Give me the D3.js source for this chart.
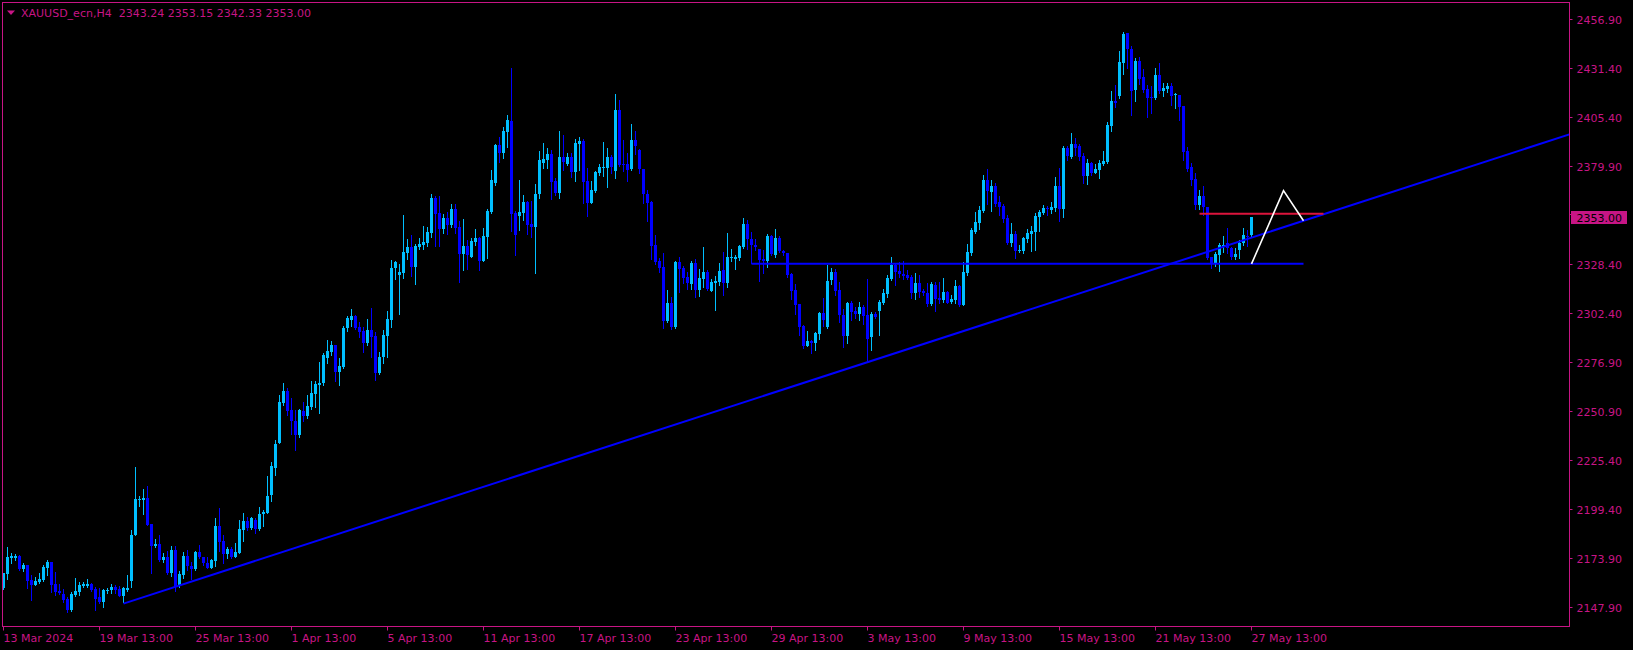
<!DOCTYPE html>
<html><head><meta charset="utf-8">
<script src="https://cdn.jsdelivr.net/npm/d3@7"></script>
<style>html,body{margin:0;padding:0;background:#000;overflow:hidden}</style>
</head><body><svg id="c" width="1633" height="650"></svg>
<script>
// ---- data (XAUUSD_ecn H4, bar index 0 = 13 Mar 2024) ----
const opens=[2158.0,2165.7,2173.6,2173.6,2175.0,2168.1,2170.0,2162.4,2159.9,2161.3,2162.4,2168.8,2171.8,2160.3,2156.6,2155.0,2152.2,2146.6,2154.6,2156.0,2159.2,2159.2,2160.3,2157.5,2153.4,2150.8,2156.6,2157.1,2158.5,2157.5,2154.1,2157.3,2161.8,2186.0,2204.4,2204.4,2205.4,2191.6,2180.2,2181.3,2173.0,2174.3,2165.9,2178.1,2159.4,2165.0,2175.0,2169.9,2168.3,2177.0,2174.4,2171.3,2168.8,2172.5,2190.7,2182.8,2176.0,2178.6,2174.6,2176.7,2188.8,2193.3,2189.5,2193.9,2188.9,2196.7,2197.7,2207.0,2221.3,2234.5,2255.1,2261.6,2251.6,2245.8,2238.5,2251.1,2248.6,2253.4,2260.2,2264.9,2265.6,2279.1,2282.1,2285.7,2271.7,2274.4,2294.5,2298.9,2301.0,2295.4,2293.1,2286.6,2293.6,2290.5,2271.2,2279.3,2290.6,2298.9,2326.0,2322.3,2323.7,2334.2,2337.0,2326.9,2337.4,2338.1,2339.3,2344.5,2363.1,2354.9,2346.6,2352.4,2348.8,2357.1,2347.7,2333.5,2337.7,2332.1,2340.0,2342.1,2330.0,2342.6,2355.6,2370.6,2390.8,2386.7,2397.7,2403.3,2354.9,2353.6,2354.9,2360.8,2349.3,2347.9,2365.0,2381.5,2382.9,2386.0,2371.8,2365.7,2384.4,2380.8,2384.4,2376.7,2391.3,2392.8,2371.8,2360.5,2366.6,2376.2,2378.9,2378.9,2384.4,2377.3,2409.1,2380.6,2380.6,2378.1,2393.4,2388.1,2378.1,2365.0,2361.0,2338.3,2329.8,2326.7,2298.3,2307.6,2295.4,2329.5,2326.0,2321.3,2317.8,2328.6,2314.6,2320.4,2323.9,2314.1,2318.5,2318.8,2325.1,2318.3,2331.4,2331.1,2331.4,2337.2,2349.3,2341.2,2338.2,2336.1,2330.9,2329.8,2343.0,2333.0,2341.9,2335.1,2333.9,2323.0,2314.6,2307.3,2295.7,2285.4,2287.8,2287.0,2291.5,2302.5,2295.2,2319.9,2324.1,2314.6,2301.5,2290.6,2307.8,2303.6,2302.0,2305.7,2301.5,2290.1,2302.0,2303.6,2308.0,2312.5,2320.4,2327.7,2324.6,2323.0,2322.5,2321.4,2313.0,2318.3,2314.1,2313.0,2307.4,2317.2,2310.6,2309.4,2313.7,2308.3,2309.4,2316.7,2306.7,2323.4,2333.9,2345.1,2349.9,2356.1,2372.4,2366.1,2369.2,2360.8,2358.7,2352.4,2339.5,2343.8,2335.1,2335.1,2341.2,2344.0,2345.1,2352.9,2355.0,2357.6,2356.6,2357.7,2369.2,2357.1,2389.2,2384.5,2391.3,2390.2,2385.0,2374.5,2381.3,2376.0,2377.6,2380.8,2381.8,2400.7,2413.8,2416.3,2433.8,2449.6,2441.1,2419.6,2434.8,2426.4,2420.1,2415.9,2415.4,2427.5,2419.1,2420.2,2421.7,2416.8,2417.0,2411.2,2387.6,2379.0,2372.7,2359.3,2364.1,2358.0,2332.1,2328.9,2333.0,2337.3,2339.5,2336.5,2331.8,2335.6,2339.1,2342.9,2343.24];
const highs=[2166.2,2179.5,2176.7,2176.0,2175.5,2171.4,2170.4,2165.0,2163.9,2165.9,2170.2,2172.9,2172.0,2166.5,2160.3,2157.5,2153.1,2155.9,2163.2,2161.3,2161.1,2162.7,2160.6,2158.5,2158.2,2157.5,2158.0,2160.3,2159.5,2159.4,2158.8,2165.0,2188.6,2221.7,2206.5,2210.1,2211.7,2191.6,2183.9,2185.8,2176.7,2177.7,2180.0,2179.9,2167.2,2177.0,2178.1,2172.0,2177.7,2180.7,2174.4,2174.3,2173.4,2194.9,2200.2,2185.8,2179.5,2179.5,2181.6,2193.9,2197.5,2195.3,2195.3,2194.9,2200.7,2199.1,2217.0,2224.1,2236.0,2259.5,2266.0,2263.0,2257.9,2251.6,2252.0,2255.8,2259.5,2266.8,2267.0,2276.8,2281.4,2288.4,2287.8,2285.7,2278.7,2295.7,2301.0,2304.6,2301.7,2297.6,2295.4,2299.2,2305.2,2292.7,2282.1,2293.6,2303.6,2330.4,2329.8,2328.3,2354.0,2341.4,2343.5,2338.8,2341.9,2348.2,2347.7,2365.0,2364.0,2364.0,2354.5,2355.6,2359.8,2359.8,2350.8,2351.9,2340.9,2341.7,2346.6,2342.6,2347.4,2357.1,2377.6,2391.3,2394.8,2400.4,2406.5,2431.2,2356.3,2372.4,2364.5,2361.4,2361.4,2370.3,2387.8,2391.6,2389.2,2388.1,2373.3,2398.3,2395.8,2386.4,2386.4,2393.7,2395.1,2393.7,2378.5,2371.8,2377.1,2380.8,2392.3,2389.2,2385.5,2417.5,2414.4,2393.4,2386.4,2401.8,2398.1,2388.5,2378.1,2367.1,2361.5,2343.5,2331.2,2334.2,2314.6,2310.8,2329.8,2331.8,2327.4,2323.9,2329.8,2330.9,2325.6,2337.2,2325.1,2320.4,2321.8,2328.8,2334.6,2344.5,2336.1,2333.0,2338.2,2352.4,2351.4,2345.2,2341.2,2336.1,2335.6,2344.0,2343.5,2346.6,2343.1,2335.6,2334.2,2323.4,2317.6,2307.3,2296.1,2293.1,2288.4,2292.7,2303.2,2310.6,2327.7,2326.0,2325.5,2319.0,2304.5,2308.3,2309.0,2305.9,2308.3,2306.6,2320.4,2303.2,2303.2,2309.4,2315.1,2322.5,2331.9,2328.3,2329.1,2330.0,2324.9,2322.5,2323.4,2322.5,2315.0,2318.1,2318.8,2319.0,2319.0,2321.1,2314.1,2312.0,2319.9,2317.2,2329.5,2338.8,2347.0,2355.6,2358.7,2375.0,2378.1,2372.4,2370.6,2364.0,2359.8,2354.0,2349.8,2345.6,2338.2,2342.3,2346.5,2348.2,2355.2,2356.6,2359.3,2358.7,2360.8,2373.9,2378.7,2390.2,2390.2,2397.0,2394.4,2391.3,2386.5,2383.4,2381.8,2380.8,2382.9,2387.6,2402.9,2419.1,2422.2,2440.1,2450.1,2449.6,2442.7,2436.4,2436.9,2430.6,2422.2,2421.7,2431.2,2433.8,2423.5,2423.5,2423.1,2418.2,2417.0,2411.2,2389.9,2381.5,2375.9,2367.1,2369.4,2358.0,2332.1,2334.7,2339.1,2343.0,2347.0,2337.0,2336.5,2340.9,2347.0,2346.1,2353.15];
const lows=[2157.4,2162.9,2171.4,2172.8,2167.6,2167.1,2158.3,2151.9,2159.7,2160.6,2162.0,2165.0,2155.9,2154.5,2155.0,2150.5,2145.6,2146.1,2153.9,2154.5,2158.8,2158.5,2156.4,2146.6,2150.1,2148.0,2155.4,2155.4,2155.4,2153.9,2150.5,2156.7,2158.5,2186.0,2201.2,2196.7,2191.2,2166.0,2179.5,2172.5,2171.6,2165.5,2164.5,2156.7,2158.5,2163.2,2167.6,2162.9,2167.6,2173.9,2170.2,2168.7,2168.7,2169.4,2177.4,2171.4,2173.7,2173.9,2174.3,2176.3,2183.0,2188.3,2188.9,2187.2,2188.6,2190.4,2197.4,2204.0,2217.6,2234.0,2254.3,2249.0,2238.9,2230.6,2237.6,2246.0,2247.6,2252.0,2252.9,2250.2,2264.8,2276.5,2280.7,2266.8,2264.8,2273.8,2293.3,2295.9,2294.3,2290.1,2282.3,2285.7,2279.6,2267.4,2270.3,2276.1,2279.6,2295.4,2320.2,2302.0,2321.1,2331.1,2322.2,2317.8,2336.2,2336.2,2337.9,2342.6,2337.9,2337.9,2344.5,2344.2,2347.9,2344.4,2319.0,2325.3,2325.6,2331.9,2338.3,2325.1,2329.8,2331.4,2355.2,2369.7,2382.0,2384.1,2389.7,2345.6,2333.0,2346.1,2351.4,2344.2,2342.6,2323.7,2363.1,2378.8,2378.8,2362.4,2364.5,2363.1,2377.6,2380.3,2373.8,2372.0,2377.6,2360.5,2353.6,2360.5,2366.1,2375.0,2374.6,2368.9,2376.2,2373.3,2379.7,2377.1,2372.0,2377.6,2386.0,2375.9,2360.5,2351.0,2330.7,2328.3,2324.2,2294.8,2298.0,2294.0,2294.8,2313.7,2318.5,2315.3,2315.0,2311.1,2311.5,2316.4,2314.6,2314.1,2304.1,2317.2,2312.0,2316.4,2329.8,2325.8,2330.4,2336.7,2336.1,2328.6,2335.6,2319.5,2323.4,2326.9,2333.0,2332.1,2334.7,2333.0,2321.6,2309.9,2302.0,2291.0,2284.3,2285.2,2281.4,2283.1,2288.7,2295.7,2294.5,2317.6,2312.0,2298.0,2284.9,2287.0,2298.9,2299.7,2298.9,2296.8,2277.9,2283.1,2299.7,2291.0,2307.3,2311.1,2319.9,2317.1,2321.6,2320.4,2320.4,2310.6,2309.7,2311.1,2312.0,2306.2,2306.7,2303.8,2307.6,2308.5,2307.6,2307.6,2307.6,2306.2,2306.7,2322.5,2333.0,2344.7,2346.6,2355.8,2359.9,2356.3,2358.9,2354.0,2350.5,2338.6,2337.7,2331.6,2334.4,2334.2,2340.0,2335.3,2335.6,2345.6,2354.5,2354.0,2355.0,2356.1,2350.8,2352.9,2382.9,2384.1,2385.5,2382.9,2370.8,2370.3,2375.0,2375.9,2373.4,2380.3,2381.3,2398.1,2410.7,2415.4,2428.0,2431.2,2406.5,2413.8,2422.8,2418.6,2405.4,2407.5,2414.9,2417.9,2416.5,2418.6,2411.6,2410.0,2403.9,2382.9,2377.0,2370.0,2357.0,2357.0,2354.0,2330.9,2326.0,2327.2,2324.8,2334.7,2334.2,2331.0,2330.7,2331.2,2338.2,2337.7,2342.33];
const closes=[2165.8,2174.4,2175.0,2175.1,2168.1,2170.2,2161.8,2159.7,2161.8,2162.9,2169.2,2171.8,2159.7,2156.0,2155.4,2152.0,2146.6,2155.0,2156.4,2159.7,2160.0,2160.4,2157.1,2152.4,2150.8,2157.1,2157.1,2158.5,2157.1,2154.1,2158.2,2158.2,2186.0,2204.9,2204.9,2205.4,2191.2,2180.4,2181.3,2172.9,2174.4,2166.0,2178.1,2158.8,2165.5,2175.0,2169.4,2168.3,2177.0,2174.3,2171.3,2168.8,2173.0,2190.7,2182.5,2176.0,2178.6,2174.3,2177.0,2188.9,2193.3,2189.5,2194.7,2188.9,2197.0,2198.0,2206.5,2222.2,2233.7,2255.8,2261.6,2251.1,2245.8,2238.5,2251.6,2248.6,2253.7,2260.5,2265.3,2266.0,2280.5,2282.6,2285.7,2271.7,2274.7,2294.8,2300.1,2301.0,2294.8,2292.7,2287.0,2293.6,2290.1,2271.2,2279.6,2291.0,2299.4,2326.3,2329.3,2324.1,2334.6,2337.0,2326.9,2337.7,2339.0,2339.8,2345.1,2363.1,2354.5,2346.6,2352.4,2348.8,2357.1,2347.3,2333.7,2337.7,2333.0,2340.4,2342.1,2330.0,2343.0,2356.1,2372.4,2390.8,2386.4,2398.1,2403.9,2354.5,2343.5,2355.6,2360.8,2348.8,2347.9,2365.0,2382.9,2383.4,2386.0,2371.5,2365.4,2384.4,2382.0,2384.4,2376.7,2391.8,2392.8,2371.5,2360.5,2367.1,2376.6,2379.2,2379.2,2384.4,2379.0,2409.1,2380.2,2380.1,2377.6,2393.4,2390.2,2378.0,2365.0,2360.5,2337.9,2329.5,2326.3,2298.5,2307.6,2295.4,2329.5,2325.6,2320.7,2318.1,2328.6,2314.6,2320.7,2323.9,2315.1,2318.8,2319.3,2324.6,2318.1,2331.8,2332.1,2332.0,2337.7,2349.3,2341.2,2338.1,2337.4,2330.4,2329.7,2343.0,2333.5,2341.9,2335.1,2333.9,2322.5,2314.1,2306.7,2295.2,2285.4,2287.7,2287.0,2291.9,2302.5,2298.9,2319.3,2324.1,2314.1,2301.5,2290.6,2307.8,2303.2,2302.0,2305.7,2301.1,2288.7,2302.0,2300.6,2308.3,2313.0,2320.9,2327.7,2324.1,2323.2,2321.8,2321.1,2313.2,2318.3,2313.7,2313.0,2307.3,2317.8,2309.9,2309.4,2313.7,2307.6,2310.1,2316.7,2306.7,2324.2,2334.7,2346.1,2350.3,2356.5,2372.4,2366.6,2369.2,2359.9,2358.4,2351.9,2339.5,2343.8,2335.1,2335.6,2341.7,2344.4,2345.6,2353.5,2355.6,2357.7,2357.1,2358.2,2369.2,2357.1,2389.2,2385.0,2391.3,2389.2,2384.5,2374.5,2381.3,2376.0,2378.1,2381.3,2382.4,2401.3,2413.8,2412.8,2434.3,2449.0,2441.1,2419.1,2434.8,2425.4,2419.6,2415.4,2415.4,2427.5,2419.1,2420.8,2421.7,2416.5,2417.3,2410.9,2387.2,2378.0,2372.4,2359.3,2364.1,2358.0,2331.6,2328.6,2333.5,2338.2,2338.4,2336.5,2331.7,2333.5,2339.5,2343.5,2342.2,2353.00];

const xTickIndex=[0,24,48,72,96,120,144,168,192,216,240,264,288,312];
const xTickLabels=["13 Mar 2024","19 Mar 13:00","25 Mar 13:00","1 Apr 13:00","5 Apr 13:00","11 Apr 13:00","17 Apr 13:00","23 Apr 13:00","29 Apr 13:00","3 May 13:00","9 May 13:00","15 May 13:00","21 May 13:00","27 May 13:00"];
const yTickValues=[2456.90,2431.40,2405.40,2379.90,2354.40,2328.40,2302.40,2276.90,2250.90,2225.40,2199.40,2173.90,2147.90];

const titleText="XAUUSD_ecn,H4  2343.24 2353.15 2342.33 2353.00";
const lastPrice=2353.00;
const trendAnchors=[[30,2149.9],[216,2276.7]];
const supportLevel={from:187,to:325,price:2328.4};
const resistLevel={from:299,to:330,price:2354.7};
const projectionPath=[[312,2328.3],[320,2366.8],[325,2351.0]];

// ---- drawing ----
const W=1633,H=650;
const frame={left:2.5,top:2.5,right:1569.5,bottom:626.5};
const MAG="#C71585", BULL="#00BFFF", BEAR="#0000FF";
const FONT="DejaVu Sans";

const svg=d3.select("#c");
svg.append("rect").attr("width",W).attr("height",H).attr("fill","#000");

const x=d3.scaleLinear().domain([0,312]).range([3.5,1251.5]);
const y=d3.scaleLinear().domain([2147.9,2456.9]).range([607.4,19.1]);

svg.append("defs").append("clipPath").attr("id","plot")
  .append("rect").attr("x",3).attr("y",3).attr("width",frame.right-3.5).attr("height",frame.bottom-3.5);

const plot=svg.append("g").attr("clip-path","url(#plot)");

const bars=d3.range(closes.length).map(i=>({i,o:opens[i],h:highs[i],l:lows[i],c:closes[i]}));
const g=plot.append("g");
bars.forEach(b=>{
  const col=b.c>=b.o?BULL:BEAR;
  const cx=x(b.i);
  g.append("line").attr("x1",cx).attr("x2",cx)
    .attr("y1",Math.round(y(b.h))).attr("y2",Math.round(y(b.l))+1)
    .attr("stroke",col).attr("stroke-width",1);
  const t=Math.round(y(Math.max(b.o,b.c))), bt=Math.round(y(Math.min(b.o,b.c)));
  g.append("rect").attr("x",cx-1.5).attr("y",t).attr("width",3)
    .attr("height",Math.max(1,bt-t)).attr("fill",col);
});

// trend line (ray) through the two anchors
const [a0,a1]=trendAnchors;
const slope=(a1[1]-a0[1])/(a1[0]-a0[0]);
const farIdx=x.invert(frame.right+10);
plot.append("line")
  .attr("x1",x(a0[0])).attr("y1",y(a0[1]))
  .attr("x2",x(farIdx)).attr("y2",y(a0[1]+slope*(farIdx-a0[0])))
  .attr("stroke",BEAR).attr("stroke-width",2);

plot.append("line")
  .attr("x1",x(supportLevel.from)).attr("x2",x(supportLevel.to))
  .attr("y1",y(supportLevel.price)).attr("y2",y(supportLevel.price))
  .attr("stroke",BEAR).attr("stroke-width",2);

plot.append("line")
  .attr("x1",x(resistLevel.from)).attr("x2",x(resistLevel.to))
  .attr("y1",y(resistLevel.price)).attr("y2",y(resistLevel.price))
  .attr("stroke","#DC143C").attr("stroke-width",2);

plot.append("path")
  .attr("d",d3.line().x(d=>x(d[0])).y(d=>y(d[1]))(projectionPath))
  .attr("fill","none").attr("stroke","#fff").attr("stroke-width",1.6);

// frame
svg.append("rect").attr("x",frame.left).attr("y",frame.top)
  .attr("width",frame.right-frame.left).attr("height",frame.bottom-frame.top)
  .attr("fill","none").attr("stroke",MAG).attr("stroke-width",1);

// y axis
const yAxis=svg.append("g");
yTickValues.forEach(v=>{
  const yy=Math.round(y(v))+0.5;
  yAxis.append("line").attr("x1",frame.right).attr("x2",frame.right+3).attr("y1",yy).attr("y2",yy).attr("stroke",MAG);
  yAxis.append("text").attr("x",1576.5).attr("y",yy+4).text(v.toFixed(2))
    .attr("fill",MAG).attr("font-family",FONT).attr("font-size",11);
});
// last price box
const ly=y(lastPrice);
svg.append("rect").attr("x",1571).attr("y",Math.round(ly)-6).attr("width",56).attr("height",13).attr("fill",MAG);
svg.append("text").attr("x",1576.5).attr("y",Math.round(ly)+4.5).text(lastPrice.toFixed(2))
  .attr("fill","#000").attr("font-family",FONT).attr("font-size",11);

// x axis
const xAxis=svg.append("g");
xTickIndex.forEach((idx,k)=>{
  const xx=x(idx);
  xAxis.append("line").attr("x1",xx).attr("x2",xx).attr("y1",frame.bottom).attr("y2",frame.bottom+4).attr("stroke",MAG);
  xAxis.append("text").attr("x",xx).attr("y",642).text(xTickLabels[k])
    .attr("fill",MAG).attr("font-family",FONT).attr("font-size",11);
});

// title
svg.append("path").attr("d","M7,10.5 L15,10.5 L11,15 Z").attr("fill",MAG);
svg.append("text").attr("x",21).attr("y",16.5).attr("xml:space","preserve").style("white-space","pre")
  .text(titleText).attr("fill",MAG).attr("font-family",FONT).attr("font-size",11);
</script>
</body></html>
